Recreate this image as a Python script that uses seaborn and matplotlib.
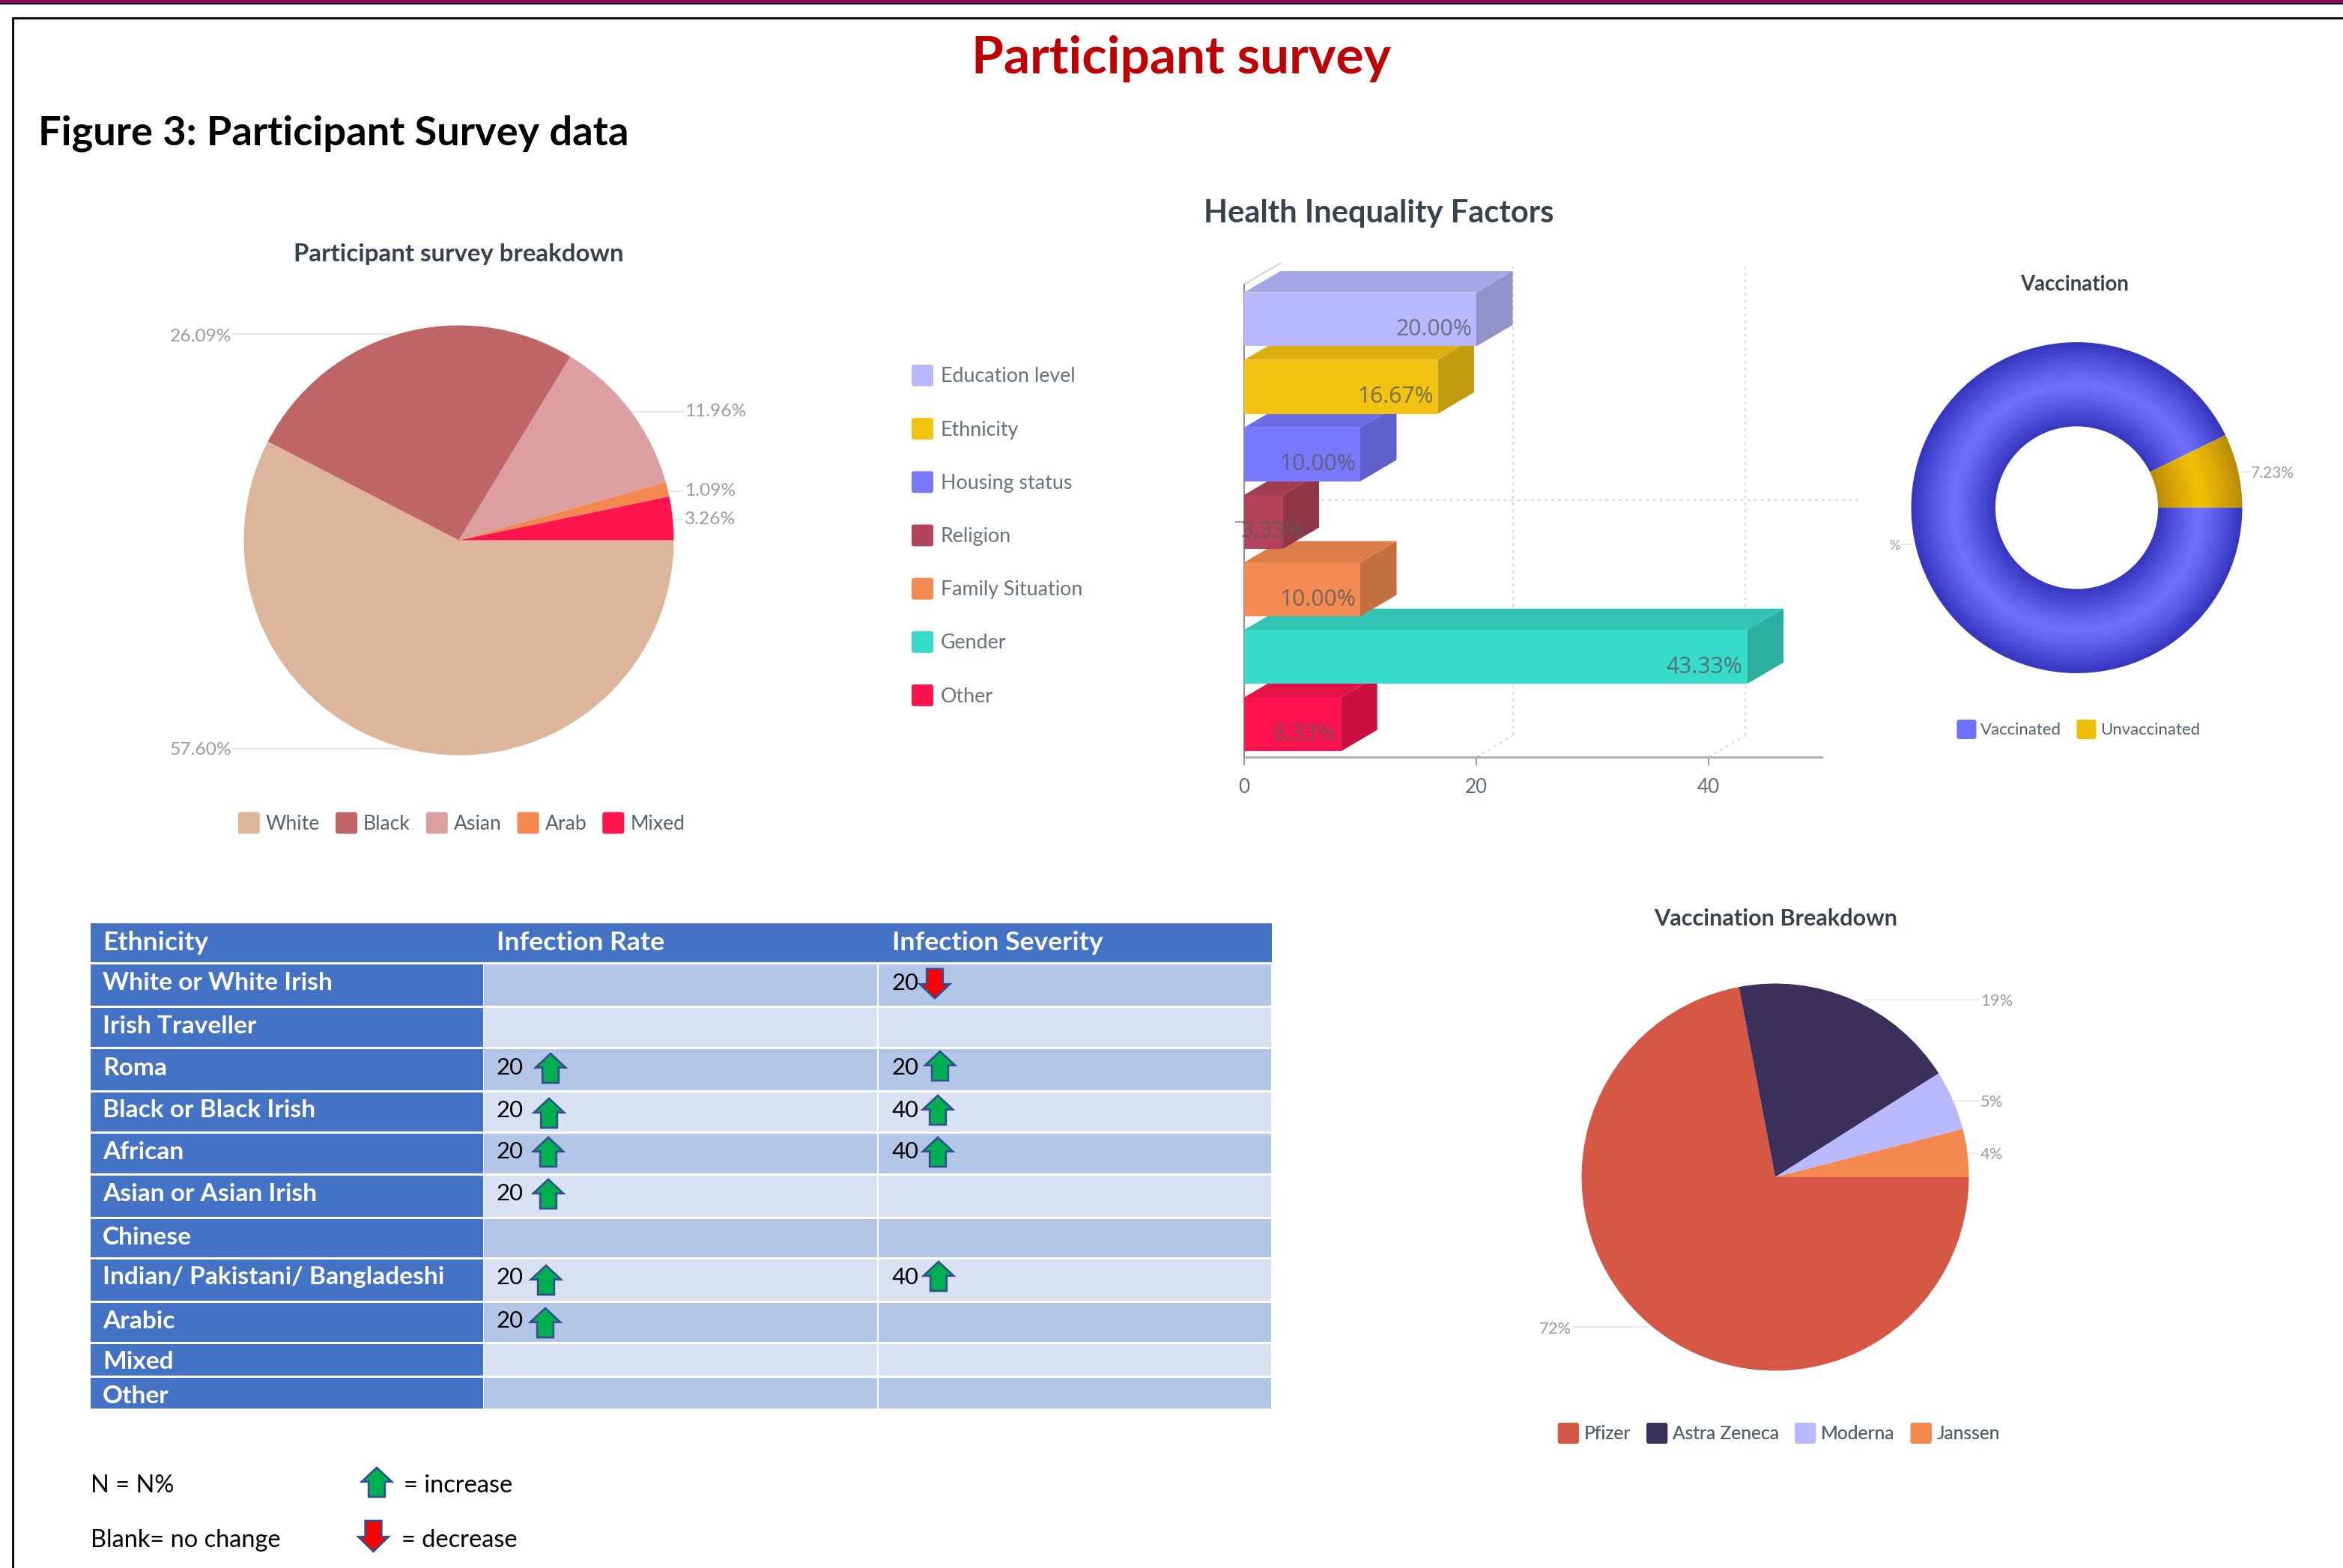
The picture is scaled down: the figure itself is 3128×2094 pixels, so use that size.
import matplotlib
matplotlib.use("Agg")
import matplotlib.pyplot as plt
import seaborn as sns
import numpy as np
from matplotlib.patches import Rectangle, Polygon, Patch, FancyBboxPatch
from matplotlib.legend_handler import HandlerPatch
from matplotlib.colors import to_rgb

# ---------- data ----------
PARTICIPANT_LABELS = ["White", "Black", "Asian", "Arab", "Mixed"]
PARTICIPANT_VALUES = [57.60, 26.09, 11.96, 1.09, 3.26]
PARTICIPANT_COLORS = ["#DDB59B", "#BF6565", "#DA9F9E", "#F3894E", "#FF154E"]

FACTOR_LABELS = ["Education level", "Ethnicity", "Housing status", "Religion",
                 "Family Situation", "Gender", "Other"]
FACTOR_VALUES = [20.00, 16.67, 10.00, 3.33, 10.00, 43.33, 8.33]
FACTOR_COLORS = ["#B8B8FF", "#F3C312", "#7878FF", "#B3435A", "#F48B52", "#37DBC9", "#FF134E"]

VACC_LABELS = ["Vaccinated", "Unvaccinated"]
VACC_VALUES = [92.77, 7.23]
VACC_COLORS = ["#7070FF", "#F2BE05"]
VACC_EDGE_COLORS = ["#3434BE", "#B88B08"]

BRAND_LABELS = ["Pfizer", "Astra Zeneca", "Moderna", "Janssen"]
BRAND_VALUES = [72, 19, 5, 4]
BRAND_COLORS = ["#D65745", "#3A3059", "#B9B9FF", "#F3894E"]

TABLE_HEADER = ["Ethnicity", "Infection Rate", "Infection Severity"]
TABLE_ROWS = ["White or White Irish", "Irish Traveller", "Roma", "Black or Black Irish",
              "African", "Asian or Asian Irish", "Chinese", "Indian/ Pakistani/ Bangladeshi",
              "Arabic", "Mixed", "Other"]
RATE = [None, None, 20, 20, 20, 20, None, 20, 20, None, None]
SEVERITY = [20, None, 20, 40, 40, None, None, 40, None, None, None]
SEVERITY_DOWN = [True, False, False, False, False, False, False, False, False, False, False]

# ---------- layout (pixels of the 3128x2094 canvas) ----------
W, H = 3128, 2094
ROW_EDGES = [1233, 1286, 1344, 1399, 1457, 1512, 1568, 1626, 1680, 1738, 1793, 1838, 1882]
ROW_TEXT_Y = [1259, 1313, 1371, 1426, 1483, 1538, 1594, 1652, 1706, 1764, 1819, 1864]
COL_EDGES = [121, 645, 1172, 1698]
COL_TEXT_X = [137, 663, 1191]
RATE_ARROW = [None, None, (735, 1407), (733, 1467), (732, 1519), (732, 1575), None, (729, 1690), (728, 1747), None, None]
SEV_ARROW = [(1248, 1294), None, (1255, 1404), (1252, 1463), (1252, 1519), None, None, (1253, 1685), None, None, None]

sns.set_theme(style="white")
plt.rcParams["font.family"] = ["Lato", "DejaVu Sans"]

PX = 0.72  # points per pixel at dpi 100
fig = plt.figure(figsize=(W / 100, H / 100), dpi=100, facecolor="white")
bg = fig.add_axes([0, 0, 1, 1], zorder=0)
bg.set_xlim(0, W)
bg.set_ylim(H, 0)
bg.axis("off")


def px_axes(x0, y0, x1, y1, zorder=1):
    ax = fig.add_axes([x0 / W, 1 - y1 / H, (x1 - x0) / W, (y1 - y0) / H], zorder=zorder)
    ax.patch.set_visible(False)
    return ax


renderer = fig.canvas.get_renderer()


def fit(x, y, s, width, ha="center", **kw):
    t = bg.text(x, y, s, ha=ha, va="center", fontsize=20, **kw)
    w = t.get_window_extent(renderer).width
    t.set_fontsize(20 * width / w)
    return t


class RoundHandler(HandlerPatch):
    def create_artists(self, legend, orig, xd, yd, w, h, fontsize, trans):
        r = 0.12 * h
        p = FancyBboxPatch((-xd + r, -yd + r), w - 2 * r, h - 2 * r,
                           boxstyle=f"round,pad={r},rounding_size={r}",
                           fc=orig.get_facecolor(), ec="none", transform=trans)
        return [p]


def make_legend(ax_fig_xy, labels, colors, font_px, handle_px, pad_px, gap_px, ncol, row_px=None,
                color="#55626F", loc="center"):
    handles = [Patch(facecolor=c, label=l) for c, l in zip(colors, labels)]
    fs = font_px * PX
    hl = handle_px / font_px
    hh = (hl - 0.245) / 0.65
    kw = {}
    if row_px:
        kw["labelspacing"] = (row_px - handle_px) / font_px
    leg = bg.legend(handles=handles, loc=loc, ncol=ncol, frameon=False,
                    bbox_to_anchor=(ax_fig_xy[0] / W, 1 - ax_fig_xy[1] / H), bbox_transform=fig.transFigure,
                    prop={"family": "Lato", "size": fs}, handlelength=hl, handleheight=hh,
                    handletextpad=pad_px / font_px, columnspacing=gap_px / font_px,
                    borderpad=0, borderaxespad=0, labelcolor=color,
                    handler_map={Patch: RoundHandler()}, **kw)
    bg.add_artist(leg)
    return leg


def pie_axes(cx, cy, r):
    ax = px_axes(cx - r, cy - r, cx + r, cy + r)
    ax.set_xlim(-1, 1)
    ax.set_ylim(-1, 1)
    ax.set_aspect("equal")
    return ax


def leader(x0, x1, y, color="#E6E6E6"):
    bg.plot([x0, x1], [y, y], color=color, lw=1.5, zorder=0.5, solid_capstyle="butt")


# ---------- page furniture ----------
bg.add_patch(Rectangle((0, 0), W, 3.5, fc="#8B0B5C", ec="none"))
bg.add_patch(Rectangle((0, 3.5), W, 2.5, fc="#111111", ec="none"))
bg.plot([17, 17, W], [H, 24, 24], color="#111111", lw=2.2, solid_joinstyle="miter")
fit(1577, 79, "Participant survey", 560, color="#C00000", fontweight="bold")
fit(51, 178, "Figure 3: Participant Survey data", 788, ha="left", color="black", fontweight="bold")

TITLE = "#36434F"
LABEL = "#9B9B9B"

# ---------- participant pie ----------
ax = pie_axes(612.5, 721.5, 287)
ax.pie(PARTICIPANT_VALUES, colors=sns.color_palette(PARTICIPANT_COLORS), startangle=0,
       counterclock=False, radius=1.0, wedgeprops={"linewidth": 0})
ax.set_xlim(-1, 1)
ax.set_ylim(-1, 1)
fit(612, 340, "Participant survey breakdown", 441, color=TITLE, fontweight="bold")
for s, x, y, ha, (l0, l1), ly in [
    ("26.09%", 309, 449, "right", (310, 525), 446),
    ("57.60%", 309, 1002, "right", (310, 540), 1000),
    ("11.96%", 914, 550, "left", (840, 913), 550),
    ("1.09%", 914, 656, "left", (888, 912), 656),
    ("3.26%", 914, 694, "left", (895, 912), 694),
]:
    bg.text(x, y, s, ha=ha, va="center", fontsize=24.5 * PX, color=LABEL)
    leader(l0, l1, ly)
make_legend((616, 1099), PARTICIPANT_LABELS, PARTICIPANT_COLORS, 26.5, 29, 8, 21, 5)

# ---------- 3D style horizontal bars ----------
X0, X_END, Y_TOP, Y_BOT = 1661, 2432, 380, 1011
ax = px_axes(X0, Y_TOP, X_END, Y_BOT, zorder=2)
sns.barplot(x=FACTOR_VALUES, y=FACTOR_LABELS, hue=FACTOR_LABELS, palette=FACTOR_COLORS,
            order=FACTOR_LABELS, hue_order=FACTOR_LABELS, orient="h", width=0.798,
            dodge=False, legend=False, linewidth=0, saturation=1, ax=ax)
ppx = 15.5          # pixels per x unit
ppy = 90.1          # pixels per category step
ax.set_xlim(0, (X_END - X0) / ppx)
ax.set_ylim(6.484, -0.516)
DX, DY = 48.5 / ppx, -28.5 / ppy


def shade(c, f):
    return tuple(np.array(to_rgb(c)) * f)


for i, (cont, col, val) in enumerate(zip(ax.containers, FACTOR_COLORS, FACTOR_VALUES)):
    bar = cont[0]
    z = 20 - 2 * i
    bar.set_zorder(z + 1)
    x1 = bar.get_width()
    y0, y1 = bar.get_y(), bar.get_y() + bar.get_height()
    ax.add_patch(Polygon([(0, y0), (x1, y0), (x1 + DX, y0 + DY), (DX, y0 + DY)], closed=True,
                         fc=shade(col, 0.9), ec="none", zorder=z, clip_on=False))
    ax.add_patch(Polygon([(x1, y0), (x1 + DX, y0 + DY), (x1 + DX, y1 + DY), (x1, y1)], closed=True,
                         fc=shade(col, 0.8), ec="none", zorder=z, clip_on=False))
    ax.text(max(val - 0.38, 5.2), i + 0.15, f"{val:.2f}%", ha="right", va="center",
            fontsize=30 * PX, family="Noto Sans", color="#5A5A5A", alpha=0.75, zorder=50, clip_on=False)

for tick in (20, 40):
    ax.plot([tick + DX, tick + DX], [6.484 + DY, -0.516 + DY], color="#D5D5D5", lw=1.3, ls=(0, (2, 3)), zorder=1, clip_on=False)
    ax.plot([tick, tick + DX], [6.484, 6.484 + DY], color="#D5D5D5", lw=1.3, ls=(0, (2, 3)), zorder=1, clip_on=False)
ax.plot([DX, (2481 - X0) / ppx], [3 + DY, 3 + DY], color="#D5D5D5", lw=1.3, ls=(0, (2, 3)), zorder=1, clip_on=False)
ax.plot([0, DX], [-0.516, -0.516 + DY], color="#D5D5D5", lw=1.5, zorder=1, clip_on=False)

ax.set_xticks([0, 20, 40])
ax.set_yticks([3], [""])
ax.set_xlabel("")
ax.set_ylabel("")
for side in ("top", "right"):
    ax.spines[side].set_visible(False)
ax.spines["left"].set_color("#8A8A8A")
ax.spines["bottom"].set_color("#ABABAB")
ax.spines["left"].set_linewidth(1.4)
ax.spines["bottom"].set_linewidth(2.0)
ax.tick_params(axis="x", length=8, width=1.2, color="#8A8A8A", labelsize=26 * PX, labelcolor="#5F6B75", pad=12, bottom=True)
ax.tick_params(axis="y", length=8.5, width=1.2, color="#8A8A8A", left=True)
fit(1841, 285, "Health Inequality Factors", 468, color=TITLE, fontweight="bold")
make_legend((1217, 715), FACTOR_LABELS, FACTOR_COLORS, 26.8, 29, 10, 20, 1, row_px=71.2, color="#66727E", loc="center left")

# ---------- donut ----------
ax = pie_axes(2772.5, 678, 221)
RING_IN = 109.5 / 221
N_RINGS = 28
edges = np.linspace(RING_IN, 1.0, N_RINGS + 1)
mid_ring = (RING_IN + 1) / 2
half_ring = (1 - RING_IN) / 2
for k in range(N_RINGS):
    r0, r1 = edges[k], edges[k + 1]
    u = min(abs((r0 + r1) / 2 - mid_ring) / half_ring, 1) ** 1.2
    cols = [tuple((1 - u) * np.array(to_rgb(c)) + u * np.array(to_rgb(e)))
            for c, e in zip(VACC_COLORS, VACC_EDGE_COLORS)]
    ax.pie(VACC_VALUES, colors=cols, startangle=0, counterclock=False, radius=r1,
           wedgeprops={"width": r1 - r0 + 0.004, "linewidth": 0})
ax.set_xlim(-1, 1)
ax.set_ylim(-1, 1)
fit(2770, 380, "Vaccination", 145, color=TITLE, fontweight="bold")
bg.text(3034, 632, "7.23%", ha="center", va="center", fontsize=21 * PX, color=LABEL)
leader(2992, 3006, 630)
bg.text(2529, 729, "%", ha="center", va="center", fontsize=18 * PX, color=LABEL)
leader(2537, 2552, 727)
make_legend((2775, 974), VACC_LABELS, VACC_COLORS, 22.2, 26, 6, 20, 2)

# ---------- vaccination breakdown pie ----------
ax = pie_axes(2370, 1572, 258.5)
ax.pie(BRAND_VALUES, colors=sns.color_palette(BRAND_COLORS), startangle=0,
       counterclock=False, radius=1.0, wedgeprops={"linewidth": 0})
ax.set_xlim(-1, 1)
ax.set_ylim(-1, 1)
fit(2371, 1227, "Vaccination Breakdown", 325, color=TITLE, fontweight="bold")
for s, x, y, ha, (l0, l1), ly in [
    ("19%", 2644, 1337, "left", (2488, 2642), 1335),
    ("5%", 2644, 1472, "left", (2608, 2642), 1470),
    ("4%", 2644, 1542, "left", (2626, 2642), 1540),
    ("72%", 2098, 1775, "right", (2100, 2200), 1772),
]:
    bg.text(x, y, s, ha=ha, va="center", fontsize=22 * PX, color=LABEL)
    leader(l0, l1, ly, color="#EBEBEB")
make_legend((2375, 1914), BRAND_LABELS, BRAND_COLORS, 24.6, 28, 7, 21, 4)

# ---------- table ----------
HEAD = "#4472C4"
BAND = ["#B4C6E7", "#D9E2F3"]
GAP = 1.5
bg.add_patch(Rectangle((COL_EDGES[0], ROW_EDGES[0]), COL_EDGES[3] - COL_EDGES[0], ROW_EDGES[1] - ROW_EDGES[0] - GAP, fc=HEAD, ec="none"))
for r in range(len(TABLE_ROWS)):
    y0, y1 = ROW_EDGES[r + 1] + GAP, ROW_EDGES[r + 2] - GAP
    bg.add_patch(Rectangle((COL_EDGES[0], y0), COL_EDGES[1] - COL_EDGES[0], y1 - y0, fc=HEAD, ec="none"))
    for c in (1, 2):
        bg.add_patch(Rectangle((COL_EDGES[c] + GAP / 2, y0), COL_EDGES[c + 1] - COL_EDGES[c] - GAP, y1 - y0, fc=BAND[r % 2], ec="none"))

for x, s in zip(COL_TEXT_X, TABLE_HEADER):
    bg.text(x, ROW_TEXT_Y[0], s, ha="left", va="center", fontsize=35.5 * PX, color="white", fontweight="bold")


def arrow(cx, top, down=False, width=40, height=39):
    sw, hh = width * 0.27, height * 0.48
    pts = [(cx, top), (cx + width / 2, top + hh), (cx + sw, top + hh), (cx + sw, top + height),
           (cx - sw, top + height), (cx - sw, top + hh), (cx - width / 2, top + hh)]
    if down:
        pts = [(x, 2 * top + height - y) for x, y in pts]
    bg.add_patch(Polygon(pts, closed=True, fc="#FF0000" if down else "#00B050", ec="#2F528F", lw=2.0, zorder=5))


for r, name in enumerate(TABLE_ROWS):
    y = ROW_TEXT_Y[r + 1]
    bg.text(COL_TEXT_X[0], y, name, ha="left", va="center", fontsize=33.5 * PX, color="white", fontweight="bold")
    if RATE[r] is not None:
        bg.text(COL_TEXT_X[1], y, str(RATE[r]), ha="left", va="center", fontsize=31 * PX, color="black")
        arrow(*RATE_ARROW[r])
    if SEVERITY[r] is not None:
        bg.text(COL_TEXT_X[2], y, str(SEVERITY[r]), ha="left", va="center", fontsize=31 * PX, color="black")
        arrow(*SEV_ARROW[r], down=SEVERITY_DOWN[r])

# ---------- key ----------
for x, y, s in [(121, 1984, "N = N%"), (539, 1984, "= increase"),
                (121, 2057, "Blank= no change"), (536, 2057, "= decrease")]:
    bg.text(x, y, s, ha="left", va="center", fontsize=32.5 * PX, color="black")
arrow(503, 1960)
arrow(498.5, 2031, down=True, height=41)

fig.savefig("out.png", dpi=100, facecolor="white")
